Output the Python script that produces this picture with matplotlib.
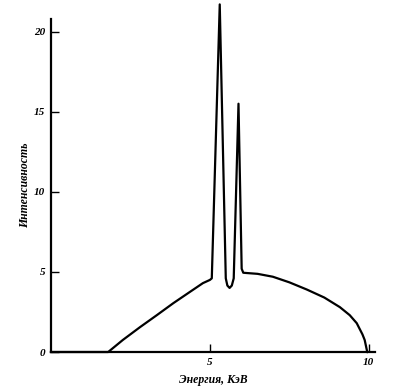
import matplotlib
matplotlib.use("Agg")
import matplotlib.pyplot as plt

# Spectrum (energy in keV, intensity)
energy = [0.0, 1.8, 2.26, 2.8, 3.33, 3.85, 4.37, 4.78, 5.0, 5.06,
          5.31, 5.50, 5.55, 5.62, 5.69, 5.75, 5.90, 6.00, 6.05,
          6.10, 6.5, 6.98, 7.5, 8.05, 8.6, 9.09, 9.4, 9.62, 9.8, 9.87, 9.94, 9.96]
intensity = [0.0, 0.0, 0.75, 1.55, 2.3, 3.05, 3.75, 4.3, 4.5, 4.6,
             21.7, 4.6, 4.15, 4.0, 4.15, 4.6, 15.5, 5.2, 4.95,
             4.94, 4.88, 4.7, 4.35, 3.9, 3.4, 2.8, 2.3, 1.8, 1.1, 0.75, 0.1, 0.0]

x_ticks = [5, 10]
x_tick_labels = ["5", "10"]
y_ticks = [0, 5, 10, 15, 20]
y_tick_labels = ["0", "5", "10", "15", "20"]

plt.rcParams['font.family'] = ['Liberation Serif', 'DejaVu Serif']

fig = plt.figure(figsize=(3.95, 3.92), dpi=100)
ax = fig.add_axes([0.129, 0.102, 0.82, 0.85])
ax.plot(energy, intensity, color="black", lw=1.6, solid_joinstyle="round", clip_on=False)
ax.set_xlim(0, 10.19)
ax.set_ylim(0, 20.8)
for s in ["top", "right"]:
    ax.spines[s].set_visible(False)
for s in ["left", "bottom"]:
    ax.spines[s].set_linewidth(1.6)
ax.set_xticks(x_ticks)
ax.set_xticklabels(x_tick_labels)
ax.set_yticks(y_ticks)
ax.set_yticklabels(y_tick_labels)
ax.tick_params(direction="in", length=6, width=1, labelsize=8, pad=4)
for lab in ax.get_xticklabels() + ax.get_yticklabels():
    lab.set_fontstyle("italic")
    lab.set_fontweight("bold")
ax.set_xlabel("Энергия, КэВ", fontsize=8.5, fontstyle="italic", fontweight="bold", labelpad=5)
ax.set_ylabel("Интенсивность", fontsize=8.5, fontstyle="italic", fontweight="bold", labelpad=2)
fig.savefig("out.png", dpi=100)
